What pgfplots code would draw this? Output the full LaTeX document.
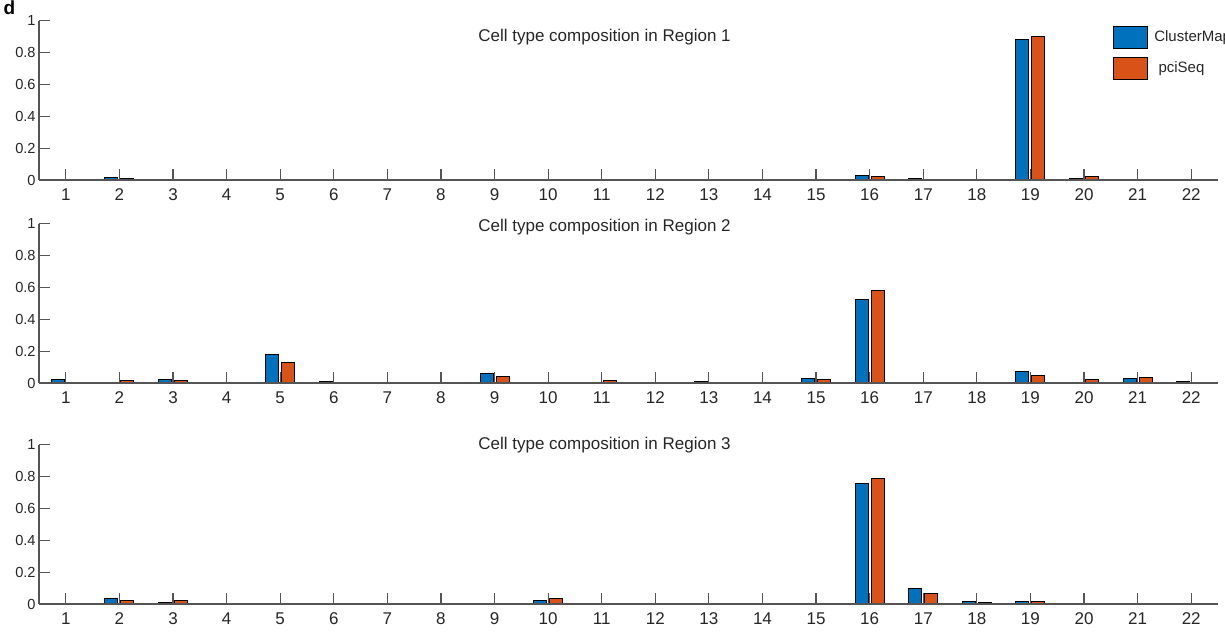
\documentclass[border=0pt]{standalone}
\usepackage{pgfplots}
\pgfplotsset{compat=1.18}
\usepackage{fontspec}
\setmainfont{Liberation Sans}
\definecolor{mblue}{HTML}{0072BD}
\definecolor{morange}{HTML}{D95319}
\definecolor{axgray}{HTML}{555555}
\definecolor{txt}{HTML}{262626}

\pgfplotstableread{
x  a      b
1  0.002  0.002
2  0.017  0.011
3  0.005  0.004
4  0.002  0.002
5  0.005  0.003
6  0.001  0.001
7  0.002  0.001
8  0.002  0.001
9  0.002  0.001
10 0.006  0.004
11 0.002  0.001
12 0.002  0.001
13 0.003  0.002
14 0.002  0.001
15 0.005  0.004
16 0.030  0.021
17 0.010  0.004
18 0.002  0.001
19 0.885  0.904
20 0.010  0.021
21 0.002  0.001
22 0.003  0.002
}\regionA

\pgfplotstableread{
x  a      b
1  0.019  0.001
2  0.001  0.013
3  0.019  0.013
4  0.001  0.001
5  0.176  0.130
6  0.008  0.005
7  0.001  0.005
8  0.001  0.001
9  0.057  0.042
10 0.001  0.001
11 0.001  0.017
12 0.002  0.006
13 0.008  0.005
14 0.001  0.001
15 0.031  0.025
16 0.526  0.580
17 0.001  0.001
18 0.001  0.001
19 0.075  0.050
20 0.006  0.025
21 0.030  0.036
22 0.008  0.005
}\regionB

\pgfplotstableread{
x  a      b
1  0.003  0.005
2  0.036  0.019
3  0.010  0.019
4  0.001  0.001
5  0.003  0.005
6  0.001  0.001
7  0.001  0.001
8  0.001  0.002
9  0.004  0.001
10 0.023  0.036
11 0.005  0.004
12 0.001  0.001
13 0.002  0.002
14 0.001  0.001
15 0.005  0.005
16 0.759  0.790
17 0.099  0.065
18 0.014  0.009
19 0.013  0.017
20 0.003  0.003
21 0.001  0.001
22 0.001  0.001
}\regionC

\pgfplotsset{
  panel/.style={
    ybar=1.5pt, bar width=6.5pt,
    scale only axis, width=589.5pt, height=79.6pt,
    anchor=south west,
    xmin=0.5, xmax=22.5, ymin=0, ymax=1,
    axis x line*=bottom, axis y line*=left,
    axis line style={axgray, line width=0.6pt, -},
    xtick pos=bottom, ytick pos=left,
    xtick={1,...,22},
    ytick={0,0.2,0.4,0.6,0.8,1},
    yticklabels={0,0.2,0.4,0.6,0.8,1},
    major tick length=5.5pt,
    xtick align=inside, ytick align=inside,
    every tick/.style={draw=axgray, line width=0.6pt},
    /pgf/number format/assume math mode=true,
    xticklabel style={font=\fontsize{8.5}{10}\selectfont, text=txt, inner sep=4.2pt},
    yticklabel style={font=\fontsize{7.3}{8.5}\selectfont, text=txt, inner sep=1.5pt},
    axis on top,
  },
  bluebar/.style={fill=mblue, draw=black, line width=0.5pt},
  orangebar/.style={fill=morange, draw=black, line width=0.5pt},
}

\begin{document}
\begin{tikzpicture}
\begin{axis}[panel, at={(19.5pt,227pt)},
  legend style={draw=none, fill=none, at={(axis description cs:0.9107,0.9667)}, anchor=north west,
    inner sep=0pt, outer sep=0pt, row sep=3.9pt, column sep=3pt,
    font=\fontsize{7.5}{9}\selectfont, text=txt,
    nodes={inner sep=0pt, outer sep=0pt}},
  legend cell align=left,
  legend image code/.code={\draw[#1] (0pt,-5.5pt) rectangle (17.3pt,5.5pt);},
]
\addplot[bluebar] table[x=x, y=a] {\regionA};
\addplot[orangebar] table[x=x, y=b] {\regionA};
\addlegendentry{ClusterMap}
\addlegendentry{\ pciSeq}
\end{axis}

\begin{axis}[panel, at={(19.5pt,125.5pt)}]
\addplot[bluebar] table[x=x, y=a] {\regionB};
\addplot[orangebar] table[x=x, y=b] {\regionB};
\end{axis}

\begin{axis}[panel, at={(19.5pt,15pt)}]
\addplot[bluebar] table[x=x, y=a] {\regionC};
\addplot[orangebar] table[x=x, y=b] {\regionC};
\end{axis}

\node[anchor=base west, inner sep=0pt, text=txt, font=\fontsize{8.5}{10}\selectfont] at (239pt,296.5pt) {Cell type composition in Region 1};
\node[anchor=base west, inner sep=0pt, text=txt, font=\fontsize{8.5}{10}\selectfont] at (239pt,201.15pt) {Cell type composition in Region 2};
\node[anchor=base west, inner sep=0pt, text=txt, font=\fontsize{8.5}{10}\selectfont] at (239pt,92.5pt) {Cell type composition in Region 3};
\node[anchor=base west, inner sep=0pt, text=black, font=\bfseries\fontsize{9.5}{11}\selectfont] at (1.6pt,309.9pt) {d};

\pgfresetboundingbox
\path[use as bounding box] (0pt,0pt) rectangle (612.5pt,317pt);
\end{tikzpicture}
\end{document}
